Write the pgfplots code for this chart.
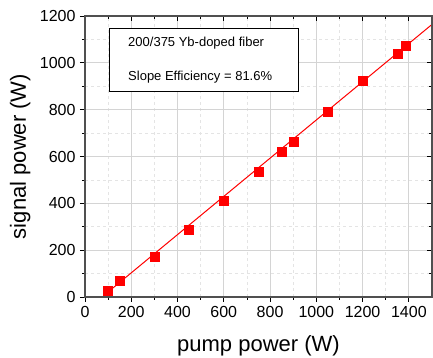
\documentclass[border=0pt]{standalone}
\usepackage{fontspec}
\setmainfont{Liberation Sans}
\usepackage{pgfplots}
\pgfplotsset{compat=1.18}
\definecolor{framegray}{HTML}{505050}
\definecolor{majgrid}{HTML}{D4D4D4}
\definecolor{mingrid}{HTML}{E4E4E4}
\begin{document}
\begin{tikzpicture}
\begin{axis}[
  at={(0,0)}, anchor=south west,
  scale only axis, width=347pt, height=281pt,
  xmin=0, xmax=1500, ymin=0, ymax=1200,
  xtick={0,200,...,1400}, ytick={0,200,...,1200},
  minor x tick num=1, minor y tick num=1,
  xtick pos=left, ytick pos=left,
  tick align=outside,
  major tick length=5pt, minor tick length=3pt,
  tick style={black, line width=0.8pt},
  grid=both,
  major grid style={majgrid, line width=0.8pt},
  minor grid style={mingrid, dashed, line width=0.6pt},
  axis line style={framegray, line width=1.2pt},
  /pgf/number format/assume math mode=true,
  /pgf/number format/set thousands separator={},
  tick label style={font=\fontsize{16}{19}\selectfont},
  xticklabel style={yshift=-1pt},
  yticklabel style={xshift=-1pt},
  xlabel={pump power (W)},
  ylabel={signal power (W)},
  label style={font=\fontsize{22}{26}\selectfont},
  xlabel style={at={(axis description cs:0.5,-0.174)}, anchor=center},
  ylabel style={at={(axis description cs:-0.187,0.5)}, anchor=center},
  clip=true,
]
\addplot[red, line width=1pt, no marks] coordinates {(100,21.6) (1500,1164)};
\addplot[only marks, mark=square*, mark size=4.5pt, mark options={fill=red, draw=red}] coordinates {
(100,25) (150,68) (300,172) (450,289) (600,410) (750,537) (850,620) (900,663) (1050,793) (1200,922) (1350,1037) (1388,1072)
};
\draw[draw=black, fill=white, line width=0.8pt] (rel axis cs:0.069,0.730) rectangle (rel axis cs:0.614,0.957);
\node[anchor=west, inner sep=0pt, text=black, font=\fontsize{13}{15}\selectfont] at (rel axis cs:0.124,0.904) {200/375 Yb-doped fiber};
\node[anchor=west, inner sep=0pt, text=black, font=\fontsize{13}{15}\selectfont] at (rel axis cs:0.124,0.783) {Slope Efficiency = 81.6\%};
\end{axis}
\begin{axis}[
  at={(0,0)}, anchor=south west,
  scale only axis, width=347pt, height=281pt,
  xmin=0, xmax=1500, ymin=0, ymax=1200,
  xtick={0,200,...,1400}, ytick={0,200,...,1200},
  minor x tick num=1, minor y tick num=1,
  xtick pos=right, ytick pos=right,
  tick align=inside,
  major tick length=5pt, minor tick length=3pt,
  tick style={black, line width=0.8pt},
  xticklabels={}, yticklabels={},
  axis line style={framegray, line width=1.2pt},
]
\end{axis}
\pgfresetboundingbox
\useasboundingbox (-85pt,-61pt) rectangle (348pt,297pt);
\end{tikzpicture}
\end{document}
